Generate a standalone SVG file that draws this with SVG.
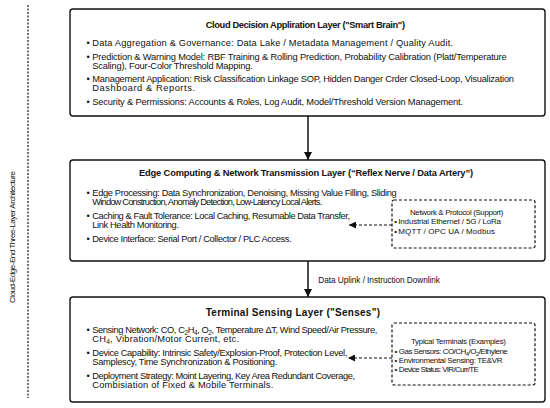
<svg xmlns="http://www.w3.org/2000/svg" width="550" height="408" viewBox="0 0 550 408">
<defs>
<marker id="ah" viewBox="0 0 10 10" refX="10" refY="5" markerWidth="7" markerHeight="7" markerUnits="userSpaceOnUse" orient="auto"><path d="M0,0 L10,5 L0,10 Z" fill="#111"/></marker>
<marker id="ah2" viewBox="0 0 10 10" refX="10" refY="5" markerWidth="8" markerHeight="8" markerUnits="userSpaceOnUse" orient="auto"><path d="M0,0 L10,5 L0,10 Z" fill="#111"/></marker>
</defs>
<style>
text{font-family:"Liberation Sans",Arial,sans-serif;fill:#111}
.t{font-size:9.3px;font-weight:bold}
.b{font-size:9.3px}
.s{font-size:8px}
.st{font-size:7.9px}
.box{fill:#fff;stroke:#111;stroke-width:1.4}
.dbox{fill:#fff;stroke:#111;stroke-width:1.2;stroke-dasharray:3,2}
.ln{stroke:#111;stroke-width:1.5;fill:none}
.dl{stroke:#111;stroke-width:1.2;fill:none;stroke-dasharray:3,2}
</style>
<rect width="550" height="408" fill="#fff"/>
<g id="side">
<line x1="28" y1="5" x2="28" y2="398" stroke="#111" stroke-width="1.2" stroke-dasharray="2,1.5"/>
<text transform="translate(15,303) rotate(-90)" style="font-size:8px" textLength="132" lengthAdjust="spacing">Cloud-Edge-End Three-Layer Architecture</text>
</g>
<g id="cloud">
<rect class="box" x="70" y="9" width="475" height="107" rx="3"/>
<text class="t" x="205.7" y="28" textLength="199.3" lengthAdjust="spacing">Cloud Decision Appliration Layer ("Smart Brain")</text>
<text class="b" x="86.5" y="46">•</text>
<text class="b" x="92.3" y="46" textLength="360.7" lengthAdjust="spacing">Data Aggregation &amp; Governance: Data Lake / Metadata Management / Quality Audit.</text>
<text class="b" x="86.5" y="60">•</text>
<text class="b" x="92.3" y="60" textLength="414.4" lengthAdjust="spacing">Prediction &amp; Warning Model: RBF Training &amp; Rolling Prediction, Probability Calibration (Platt/Temperature</text>
<text class="b" x="92.3" y="69" textLength="160.4" lengthAdjust="spacing">Scaling), Four-Color Threshold Mapping.</text>
<text class="b" x="86.5" y="82">•</text>
<text class="b" x="92.3" y="82" textLength="421.7" lengthAdjust="spacing">Management Application: Risk Classification Linkage SOP, Hidden Danger Crder Closed-Loop, Visualization</text>
<text class="b" x="92.3" y="91" textLength="102.7" lengthAdjust="spacing">Dashboard &amp; Reports.</text>
<text class="b" x="86.5" y="105">•</text>
<text class="b" x="92.3" y="105" textLength="370.7" lengthAdjust="spacing">Security &amp; Permissions: Accounts &amp; Roles, Log Audit, Model/Threshold Version Management.</text>
</g>
<g id="edge">
<rect class="box" x="70" y="160" width="475" height="101" rx="3"/>
<text class="t" x="139" y="176" textLength="334" lengthAdjust="spacing">Edge Computing &amp; Network Transmission Layer (“Reflex Nerve / Data Artery”)</text>
<text class="b" x="86.5" y="196">•</text>
<text class="b" x="92.3" y="196" textLength="304.4" lengthAdjust="spacing">Edge Processing: Data Synchronization, Denoising, Missing Value Filling, Sliding</text>
<text class="b" x="92.3" y="205" textLength="230" lengthAdjust="spacing">Window Construction, Anomaly Detection, Low-Latency Local Alerts.</text>
<text class="b" x="86.5" y="219">•</text>
<text class="b" x="92.3" y="219" textLength="257.7" lengthAdjust="spacing">Caching &amp; Fault Tolerance: Local Caching, Resumable Data Transfer,</text>
<text class="b" x="92.3" y="228" textLength="86.7" lengthAdjust="spacing">Link Health Monitoring.</text>
<text class="b" x="86.5" y="242">•</text>
<text class="b" x="92.3" y="242" textLength="199.4" lengthAdjust="spacing">Device Interface: Serial Port / Collector / PLC Access.</text>
</g>
<g id="network">
<rect class="dbox" x="392" y="200" width="143" height="48" rx="2"/>
<text class="st" x="410" y="215" textLength="93.3" lengthAdjust="spacing">Network &amp; Protocol (Support)</text>
<text class="s" x="394.3" y="224">•</text>
<text class="s" x="398.3" y="224" textLength="102.7" lengthAdjust="spacing">Industrial Ethernet / 5G / LoRa</text>
<text class="s" x="394.3" y="234">•</text>
<text class="s" x="398.3" y="234" textLength="96.7" lengthAdjust="spacing">MQTT / OPC UA / Modbus</text>
</g>
<g id="terminal">
<rect class="box" x="70" y="297" width="475" height="105" rx="3"/>
<text class="t" x="205.7" y="316" style="font-size:10px" textLength="174.3" lengthAdjust="spacing">Terminal Sensing Layer ("Senses")</text>
<text class="b" x="86.5" y="333">•</text>
<text class="b" x="92.3" y="333" textLength="285" lengthAdjust="spacing">Sensing Network: CO, C<tspan font-size="6.5" baseline-shift="-2">2</tspan>H<tspan font-size="6.5" baseline-shift="-2">4</tspan>, O<tspan font-size="6.5" baseline-shift="-2">2</tspan>, Temperature ΔT, Wind Speed/Air Pressure,</text>
<text class="b" x="92.3" y="342" textLength="146.7" lengthAdjust="spacing">CH<tspan font-size="6.5" baseline-shift="-2">4</tspan>, Vibration/Motor Current, etc.</text>
<text class="b" x="86.5" y="356">•</text>
<text class="b" x="92.3" y="356" textLength="255" lengthAdjust="spacing">Device Capability: Intrinsic Safety/Explosion-Proof, Protection Level,</text>
<text class="b" x="92.3" y="365" textLength="185" lengthAdjust="spacing">Samplescy, Time Synchronization &amp; Positioning.</text>
<text class="b" x="86.5" y="379">•</text>
<text class="b" x="92.3" y="379" textLength="262.7" lengthAdjust="spacing">Deployment Strategy: Moint Layering, Key Area Redundant Coverage,</text>
<text class="b" x="92.3" y="388" textLength="181" lengthAdjust="spacing">Combisiation of Fixed &amp; Mobile Terminals.</text>
</g>
<g id="typical">
<rect class="dbox" x="392" y="323" width="143" height="62" rx="2"/>
<text class="st" x="411" y="344" textLength="95" lengthAdjust="spacing">Typical Terminals (Examples)</text>
<text class="s" x="394.5" y="354">•</text>
<text class="s" x="398.8" y="354" textLength="109" lengthAdjust="spacing">Gas Sensors: CO/CH<tspan font-size="5.8" baseline-shift="-1.5">4</tspan>/O<tspan font-size="5.8" baseline-shift="-1.5">2</tspan>/Ethylene</text>
<text class="s" x="394.5" y="363">•</text>
<text class="s" x="398.8" y="363" textLength="103.7" lengthAdjust="spacing">Environmental Sensing: TE&amp;VR</text>
<text class="s" x="394.5" y="372">•</text>
<text class="s" x="398.8" y="372" textLength="80" lengthAdjust="spacing">Device Status: VIR/Curr/TE</text>
</g>
<g id="connectors">
<line class="ln" x1="308" y1="116" x2="308" y2="160" marker-end="url(#ah2)"/>
<line class="ln" x1="308" y1="261" x2="308" y2="297" marker-end="url(#ah2)"/>
<text style="font-size:8.3px" x="318.3" y="283" textLength="121.7" lengthAdjust="spacing">Data Uplink / Instruction Downlink</text>
<line class="dl" x1="392" y1="225" x2="349" y2="225" marker-end="url(#ah)"/>
<line class="dl" x1="392" y1="358" x2="348" y2="358" marker-end="url(#ah)"/>
</g>
</svg>
